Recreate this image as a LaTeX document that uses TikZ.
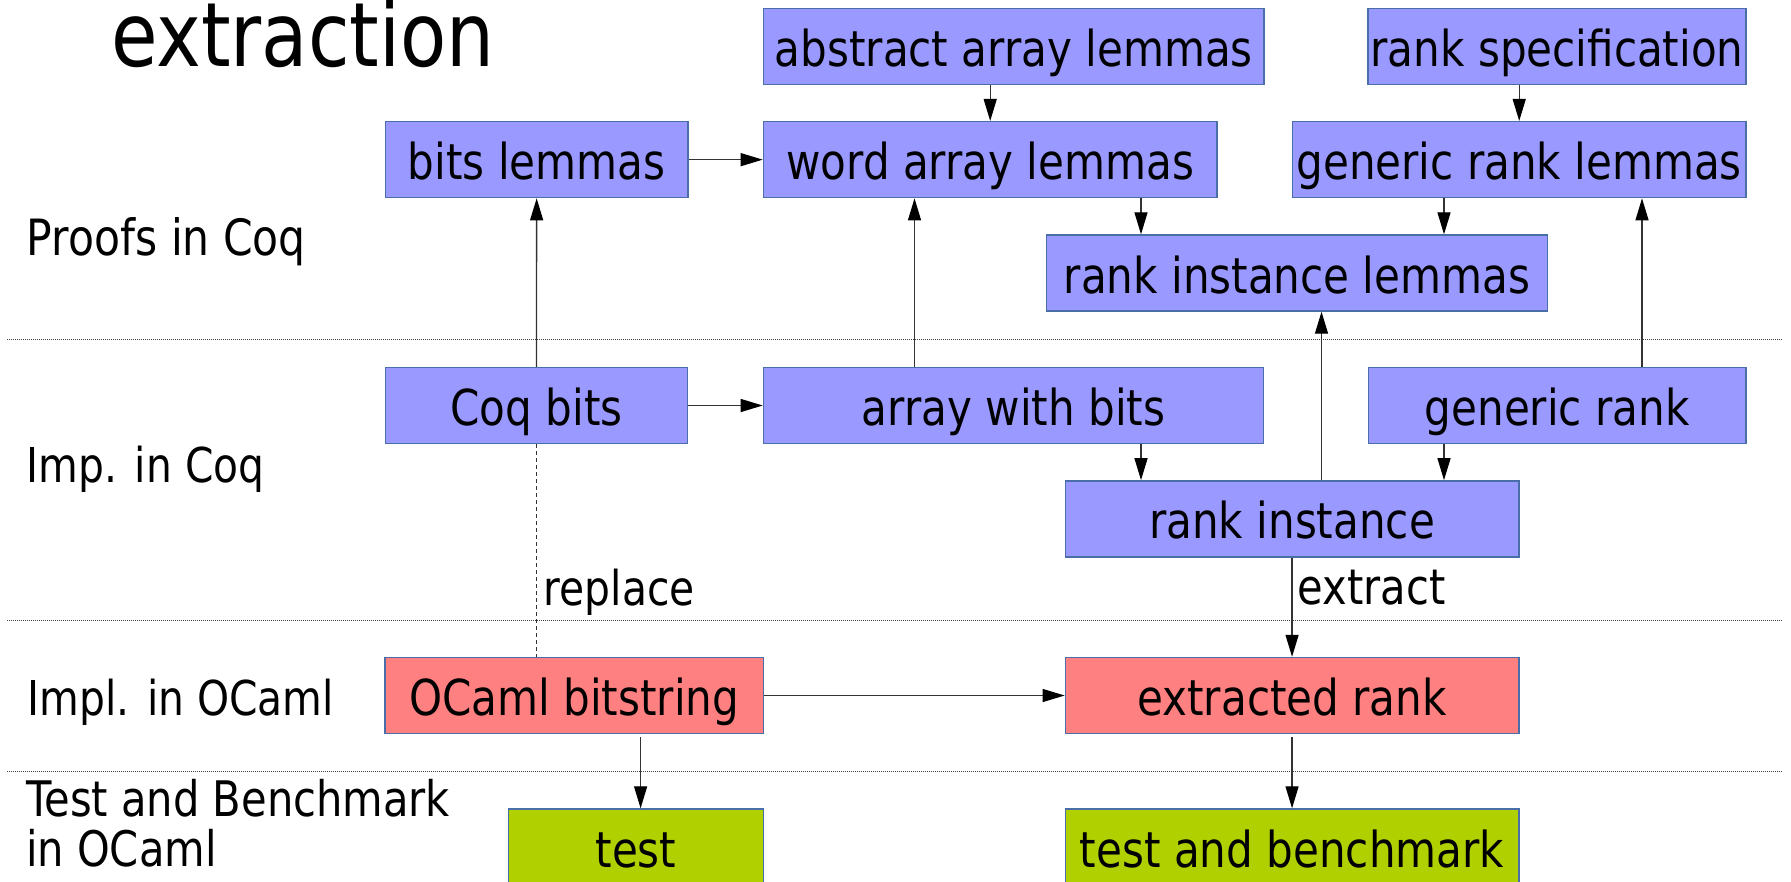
\documentclass[tikz,border=0pt]{standalone}
\usepackage{fontspec}
\setmainfont[FakeStretch=0.85]{DejaVu Sans}
\usetikzlibrary{arrows.meta}
\definecolor{boxblue}{HTML}{9999FF}
\definecolor{boxred}{HTML}{FF8080}
\definecolor{boxgreen}{HTML}{B0D000}
\definecolor{edgeblue}{HTML}{4A6FA8}
\definecolor{linegray}{HTML}{333333}
\begin{document}
\begin{tikzpicture}[x=1pt,y=-1pt,
  box/.style={draw=edgeblue, line width=1.4pt, minimum height=76pt, inner sep=0pt,
    text height=40pt, text depth=0pt, font=\fontsize{49.5}{58}\selectfont},
  bluebox/.style={box, fill=boxblue},
  redbox/.style={box, fill=boxred},
  greenbox/.style={box, fill=boxgreen},
  arr/.style={draw=linegray, line width=1.3pt, -{Triangle[length=22pt,width=13pt,fill=black,color=black]}},
  plainline/.style={draw=linegray, line width=1.2pt, dash pattern=on 4pt off 3pt},
  sec/.style={draw=black!75, line width=1pt, dash pattern=on 1pt off 1pt},
  lbl/.style={anchor=base west, inner sep=0pt, font=\fontsize{48}{58}\selectfont},
  ]
\useasboundingbox (0,0) rectangle (1791,881);

% section lines
\draw[sec] (7,339.3) -- (1783,339.3);
\draw[sec] (7,620) -- (1783,620);
\draw[sec] (7,771) -- (1783,771);

% labels
\node[lbl, font=\fontsize{89}{100}\selectfont] (title) at (111,66.7) {extraction};
\node[lbl, font=\fontsize{50}{58}\selectfont] (l1) at (26.8,255) {Proofs in Coq};
\node[lbl] (l2) at (26.7,482.3) {Imp. in Coq};
\node[lbl] (l3) at (27.6,715) {Impl. in OCaml};
\node[lbl, font=\fontsize{49}{58}\selectfont] (l4) at (25.8,816.7) {Test and Benchmark};
\node[lbl, font=\fontsize{49}{58}\selectfont] (l5) at (25.8,866.7) {in OCaml};

% boxes
\node[bluebox, minimum width=500.7pt] (abs) at (1013.75,46.3) {abstract array lemmas};
\node[bluebox, minimum width=378pt] (spec) at (1557.1,46.3) {rank specification};
\node[bluebox, minimum width=302.7pt] (bitsl) at (536.65,159.65) {bits lemmas};
\node[bluebox, minimum width=453.6pt] (word) at (990.2,159.65) {word array lemmas};
\node[bluebox, minimum width=453.8pt] (gen) at (1519.2,159.65) {generic rank lemmas};
\node[bluebox, minimum width=500.9pt] (ril) at (1297.05,273) {rank instance lemmas};
\node[bluebox, minimum width=302.3pt] (coqbits) at (536.5,405.5) {Coq bits};
\node[bluebox, minimum width=500.3pt] (awb) at (1013.55,405.5) {array with bits};
\node[bluebox, minimum width=377.9pt] (genr) at (1557.15,405.5) {generic rank};
\node[bluebox, minimum width=453.5pt] (ri) at (1292.05,518.85) {rank instance};
\node[redbox, minimum width=378.3pt] (ocb) at (574.25,695.5) {OCaml bitstring};
\node[redbox, minimum width=453.5pt] (exr) at (1292.05,695.5) {extracted rank};
\node[greenbox, minimum width=254.8pt] (test) at (636,847) {test};
\node[greenbox, minimum width=453.5pt] (tab) at (1292.05,847) {test and benchmark};

% helper x positions
\coordinate (xa) at (1141,0);
\coordinate (xb) at (1444,0);
\coordinate (xc) at (914.5,0);
\coordinate (xd) at (1321.5,0);
\coordinate (xe) at (1642,0);
\coordinate (xf) at (640.6,0);

% connectors
\draw[arr] (abs.south -| word.north) -- (word.north);
\draw[arr] (spec.south -| gen.north) -- (gen.north);
\draw[arr] (bitsl.east) -- (word.west);
\draw[arr] (word.south -| xa) -- (ril.north -| xa);
\draw[arr] (gen.south -| xb) -- (ril.north -| xb);
\draw[arr] (coqbits.north) -- (bitsl.south);
\draw[arr] (awb.north -| xc) -- (word.south -| xc);
\draw[arr] (ri.north -| xd) -- (ril.south -| xd);
\draw[arr] (genr.north -| xe) -- (gen.south -| xe);
\draw[arr] (coqbits.east) -- (awb.west);
\draw[arr] (awb.south -| xa) -- (ri.north -| xa);
\draw[arr] (genr.south -| xb) -- (ri.north -| xb);
\draw[arr] (ri.south) -- (exr.north);
\draw[plainline] (coqbits.south) -- (coqbits.south |- ocb.north);
\draw[arr] (ocb.east) -- (exr.west);
\draw[arr, shorten <=3pt] (ocb.south -| xf) -- (test.north -| xf);
\draw[arr, shorten <=3pt] (exr.south) -- (tab.north);

% connector labels
\node[lbl] (rep) at (543.7,605) {replace};
\node[lbl, font=\fontsize{49}{58}\selectfont] (ext) at (1297.7,604) {extract};
\end{tikzpicture}
\end{document}
